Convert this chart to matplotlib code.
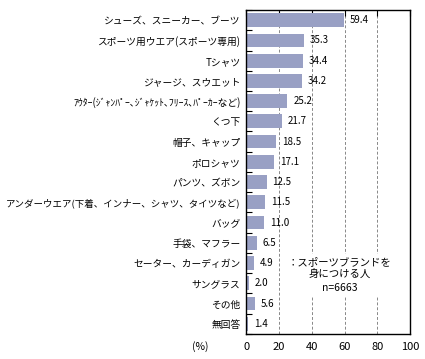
import matplotlib
matplotlib.use('Agg')
import matplotlib.pyplot as plt

plt.rcParams['font.family'] = ['Noto Sans CJK JP', 'DejaVu Sans']

# 項目と値
items = ['シューズ、スニーカー、ブーツ', 'スポーツ用ウエア(スポーツ専用)', 'Tシャツ',
         'ジャージ、スウエット', 'ｱｳﾀｰ(ｼﾞｬﾝﾊﾟｰ､ｼﾞｬｹｯﾄ､ﾌﾘｰｽ､ﾊﾟｰｶｰなど)', 'くつ下',
         '帽子、キャップ', 'ポロシャツ', 'パンツ、ズボン',
         'アンダーウエア(下着、インナー、シャツ、タイツなど)', 'バッグ', '手袋、マフラー',
         'セーター、カーディガン', 'サングラス', 'その他', '無回答']
values = [59.4, 35.3, 34.4, 34.2, 25.2, 21.7, 18.5, 17.1, 12.5, 11.5, 11.0, 6.5, 4.9, 2.0, 5.6, 1.4]
xticks = [0, 20, 40, 60, 80, 100]

fig = plt.figure(figsize=(4.25, 3.59), dpi=100)
ax = fig.add_axes([0.579, 0.070, 0.386, 0.902])

n = len(items)
ypos = list(range(n))
ax.barh(ypos, values, height=0.68, color='#99a0c4', zorder=2)
for y, v in zip(ypos, values):
    ax.text(v + 3.5, y, f'{v:.1f}', va='center', ha='left', fontsize=7, zorder=3)

ax.set_xlim(0, 100)
ax.set_ylim(n - 0.5, -0.5)
ax.set_xticks(xticks)
ax.set_xticklabels([str(t) for t in xticks], fontsize=8)
for t in xticks[1:-1]:
    ax.axvline(t, color='#888888', linestyle=(0, (3, 2)), linewidth=0.7, zorder=1)

ax.set_yticks(ypos)
ax.set_yticklabels(items, fontsize=7)
ax.tick_params(axis='y', length=0, pad=4)
ax.set_yticks([i + 0.5 for i in range(-1, n)], minor=True)
ax.tick_params(axis='y', which='minor', direction='in', length=4, width=0.8)
ax.tick_params(axis='x', direction='in', length=4, width=0.8, top=True, bottom=False, labeltop=False, labelbottom=True, pad=6)
for lab in ax.get_yticklabels():
    if lab.get_text().startswith('ｱｳﾀｰ'):
        lab.set_fontsize(7)
    if lab.get_text().startswith('アンダー'):
        lab.set_fontsize(6.8)
for s in ax.spines.values():
    s.set_linewidth(1.0)

ax.text(57, 12.6, '：スポーツブランドを\n身につける人\nn=6663', ha='center', va='center',
        fontsize=7.5, linespacing=1.4, zorder=4,
        bbox=dict(facecolor='white', edgecolor='none', pad=2))

fig.text(200 / 425, 1 - 347 / 359, '(%)', ha='center', va='center', fontsize=7.5)

fig.savefig('out.png', dpi=100)
